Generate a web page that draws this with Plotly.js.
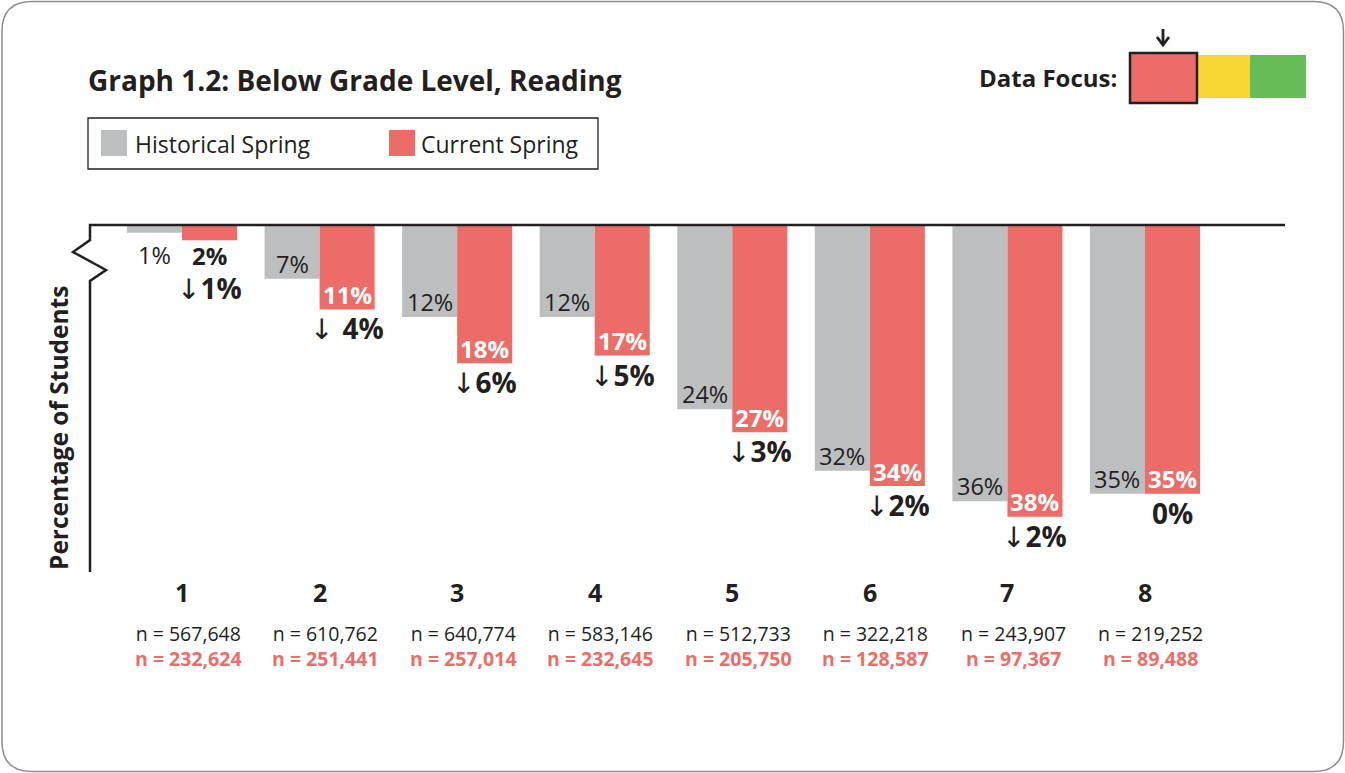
<!DOCTYPE html>
<html>
<head>
<meta charset="utf-8">
<script src="https://cdn.plot.ly/plotly-3.0.1.min.js"></script>
<style>html,body{margin:0;padding:0;background:#fff;}#chart{width:1345px;height:773px;}</style>
</head>
<body>
<div id="chart"></div>
<script>
// ---- data ----
const grades = ['1','2','3','4','5','6','7','8'];
const histPct = [1, 7, 12, 12, 24, 32, 36, 35];
const currPct = [2, 11, 18, 17, 27, 34, 38, 35];
const changeArrow = ['↓', '↓ ', '↓', '↓', '↓', '↓', '↓', ''];
const changePct = [1, 4, 6, 5, 3, 2, 2, 0];
const histN = ['567,648', '610,762', '640,774', '583,146', '512,733', '322,218', '243,907', '219,252'];
const currN = ['232,624', '251,441', '257,014', '232,645', '205,750', '128,587', '97,367', '89,488'];
const seriesNames = ['Historical Spring', 'Current Spring'];
const chartTitle = 'Graph 1.2: Below Grade Level, Reading';
const yTitle = 'Percentage of Students';
const focusLabel = 'Data Focus:';

// ---- styles ----
const GRAY = '#BCBEC0', RED = '#EC6D67', DARK = '#231F20', YEL = '#F9D835', GRN = '#66BD57';
const FONT = 'Open Sans, sans-serif';
const L = 90, R = 1285, T = 225, B = 572, W = 1345, H = 773;
const px = x => (x - L) / (R - L);
const py = y => (B - y) / (B - T);
const P = (x, y) => px(x).toFixed(5) + ',' + py(y).toFixed(5);
const idx = grades.map((g, i) => i);

const traces = [
  {type: 'bar', x: idx, y: histPct, name: seriesNames[0], marker: {color: GRAY}, hoverinfo: 'skip'},
  {type: 'bar', x: idx, y: currPct, name: seriesNames[1], marker: {color: RED}, hoverinfo: 'skip'}
];

const ann = [];
const A = o => ann.push(Object.assign({showarrow: false, xref: 'x', yref: 'y'}, o));

idx.forEach(i => {
  const small = currPct[i] < 4;
  const yTop = Math.max(histPct[i], currPct[i]);
  A({x: i - 0.2, y: small ? yTop : histPct[i], yanchor: 'middle', yshift: small ? -15 : 15,
     text: histPct[i] + '%', font: {family: FONT, size: 23.5, color: DARK}});
  A({x: i + 0.2, y: currPct[i], yanchor: 'middle', yshift: small ? -15 : 15,
     text: '<b>' + currPct[i] + '%</b>', font: {family: FONT, size: 24, color: small ? DARK : '#FFFFFF'}});
  const arrow = changeArrow[i] ? '<span style="font-family:DejaVu Sans;font-weight:normal">' + changeArrow[i] + '</span>' : '';
  A({x: i + 0.2, y: currPct[i], yanchor: 'middle', yshift: small ? -48 : -19,
     text: '<b>' + arrow + changePct[i] + '%</b>', font: {family: FONT, size: 28, color: DARK}});
  A({x: i, yref: 'paper', y: py(592), yanchor: 'middle',
     text: '<b>' + grades[i] + '</b>', font: {family: FONT, size: 25, color: DARK}});
  A({x: i, xshift: 6, yref: 'paper', y: py(646), yanchor: 'middle', align: 'center',
     text: 'n = ' + histN[i] + '<br><span style="color:' + RED + '"><b>n = ' + currN[i] + '</b></span>',
     font: {family: FONT, size: 19.5, color: DARK}});
});

A({xref: 'paper', yref: 'paper', x: px(86), y: py(80), xanchor: 'left', yanchor: 'middle',
   text: '<b>' + chartTitle + '</b>', font: {family: FONT, size: 28, color: DARK}});
A({xref: 'paper', yref: 'paper', x: px(58), y: py(428), xanchor: 'center', yanchor: 'middle', textangle: -90,
   text: '<b>' + yTitle + '</b>', font: {family: FONT, size: 24.5, color: DARK}});
A({xref: 'paper', yref: 'paper', x: px(133), y: py(144), xanchor: 'left', yanchor: 'middle',
   text: seriesNames[0], font: {family: FONT, size: 23, color: DARK}});
A({xref: 'paper', yref: 'paper', x: px(419), y: py(144), xanchor: 'left', yanchor: 'middle',
   text: seriesNames[1], font: {family: FONT, size: 23, color: DARK}});
A({xref: 'paper', yref: 'paper', x: px(1119), y: py(77), xanchor: 'right', yanchor: 'middle',
   text: '<b>' + focusLabel + '</b>', font: {family: FONT, size: 24, color: DARK}});

const rect = (x0, y0, x1, y1, fill, lineColor, lw) => ({
  type: 'rect', xref: 'paper', yref: 'paper', x0: px(x0), x1: px(x1), y0: py(y0), y1: py(y1),
  fillcolor: fill, line: {color: lineColor || 'rgba(0,0,0,0)', width: lw || 0}, layer: 'above'
});
const path = (d, color, w, fill) => ({type: 'path', xref: 'paper', yref: 'paper', path: d,
  line: {color: color, width: w}, fillcolor: fill || 'rgba(0,0,0,0)', layer: 'above'});

const bx0 = 2, by0 = 1.5, bx1 = 1343.5, by1 = 771.5, r = 30;
const border = 'M' + P(bx0 + r, by0) + ' L' + P(bx1 - r, by0) + ' Q' + P(bx1, by0) + ' ' + P(bx1, by0 + r) +
  ' L' + P(bx1, by1 - r) + ' Q' + P(bx1, by1) + ' ' + P(bx1 - r, by1) +
  ' L' + P(bx0 + r, by1) + ' Q' + P(bx0, by1) + ' ' + P(bx0, by1 - r) +
  ' L' + P(bx0, by0 + r) + ' Q' + P(bx0, by0) + ' ' + P(bx0 + r, by0) + ' Z';

const axes = 'M' + P(1285, 225) + ' L' + P(90, 225) + ' L' + P(90, 240) + ' L' + P(73, 252) +
  ' L' + P(106, 270) + ' L' + P(90, 281) + ' L' + P(90, 572);

const shapes = [
  path(border, '#8C8C8C', 1.5),
  path(axes, DARK, 2.5),
  rect(88, 118, 598, 169, 'rgba(0,0,0,0)', DARK, 1.3),
  rect(101, 130, 127, 156, GRAY),
  rect(389, 130, 415, 156, RED),
  rect(1197, 55, 1250, 98, YEL),
  rect(1250, 55, 1306, 98, GRN),
  rect(1130, 53, 1197, 103, RED, DARK, 2.5),
  path('M' + P(1163, 29) + ' L' + P(1163, 44), DARK, 2.8),
  path('M' + P(1157, 37) + ' L' + P(1163, 45) + ' L' + P(1169, 37), DARK, 2.8)
];

const layout = {
  width: W, height: H,
  margin: {l: L, r: W - R, t: T, b: H - B, pad: 0},
  paper_bgcolor: '#FFFFFF', plot_bgcolor: 'rgba(0,0,0,0)',
  barmode: 'group', bargap: 0.2, bargroupgap: 0,
  showlegend: false,
  xaxis: {range: [(L - 182) / 137.57, (R - 182) / 137.57], showticklabels: false, showgrid: false,
          zeroline: false, showline: false, ticks: '', fixedrange: true},
  yaxis: {range: [(B - T) / 7.677, 0], showticklabels: false, showgrid: false,
          zeroline: false, showline: false, ticks: '', fixedrange: true},
  annotations: ann,
  shapes: shapes,
  font: {family: FONT, color: DARK}
};

Plotly.newPlot('chart', traces, layout, {staticPlot: true, displayModeBar: false});
</script>
</body>
</html>
